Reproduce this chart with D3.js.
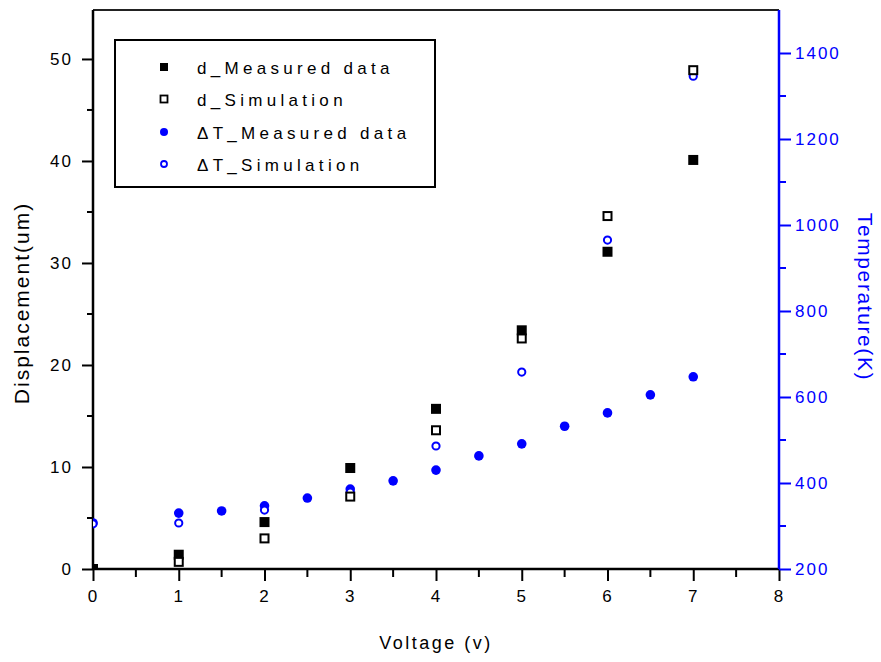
<!DOCTYPE html>
<html><head><meta charset="utf-8">
<script src="https://cdn.jsdelivr.net/npm/d3@7/dist/d3.min.js"></script>
<style>
body{margin:0;background:#fff;}
svg{display:block;}
text{font-family:"Liberation Sans",Arial,sans-serif;}
</style></head><body>
<svg id="chart" width="881" height="662"></svg>
<script>
// ---- data ----
const voltage = [0,1,2,3,4,5,6,7];
const dMeasured = [0,1.4,4.6,9.9,15.7,23.4,31.1,40.1];
const dSimulation = [null,0.7,3.0,7.1,13.6,22.6,34.6,48.9];
const tVoltage = [0,1,1.5,2,2.5,3,3.5,4,4.5,5,5.5,6,6.5,7];
const tMeasured = [307,330,335,347,365,386,405,430,463,491,532,563,605,647];
const tSimVoltage = [0,1,2,3,4,5,6,7];
const tSimulation = [305,307,337,379,486,658,965,1346];
const xTicks = [0,1,2,3,4,5,6,7,8];
const yLeftTicks = [0,10,20,30,40,50];
const yRightTicks = [200,400,600,800,1000,1200,1400];
const legendLabels = ["d_Measured data","d_Simulation","\u0394T_Measured data","\u0394T_Simulation"];

const svg = d3.select("#chart");
const L=93, R=779, T=10, B=569;
const blue="#0000ff";
const x = d3.scaleLinear().domain([0,8]).range([L,R]);
const yL = d3.scaleLinear().domain([0,54.8]).range([B,T]);
const yR = d3.scaleLinear().domain([200,1500]).range([B,T]);

svg.append("defs").append("clipPath").attr("id","clip")
  .append("rect").attr("x",L).attr("y",T).attr("width",R-L).attr("height",B-T);

const tickFont = {size:"17px", ls:"2px"};

// top border
svg.append("line").attr("x1",L).attr("x2",R).attr("y1",T).attr("y2",T).attr("stroke","#222").attr("stroke-width",2);

// x axis
const gx = svg.append("g").attr("transform",`translate(0,${B})`)
  .call(d3.axisBottom(x).tickValues(xTicks).tickSize(12).tickPadding(9).tickFormat(d3.format("d")));
gx.append("g").selectAll("line").data(d3.range(0.5,8,1)).join("line")
  .attr("x1",d=>x(d)).attr("x2",d=>x(d)).attr("y1",0).attr("y2",8).attr("stroke","#000").attr("stroke-width",2);
// left axis
const gy = svg.append("g").attr("transform",`translate(${L},0)`)
  .call(d3.axisLeft(yL).tickValues(yLeftTicks).tickSize(11).tickPadding(9).tickFormat(d3.format("d")));
gy.append("g").selectAll("line").data(d3.range(5,55,10)).join("line")
  .attr("y1",d=>yL(d)).attr("y2",d=>yL(d)).attr("x1",0).attr("x2",-6).attr("stroke","#000").attr("stroke-width",2);
// right axis
const gr = svg.append("g").attr("transform",`translate(${R},0)`)
  .call(d3.axisRight(yR).tickValues(yRightTicks).tickSize(12).tickPadding(4).tickFormat(d3.format("d")));
gr.append("g").selectAll("line").data(d3.range(300,1500,200)).join("line")
  .attr("y1",d=>yR(d)).attr("y2",d=>yR(d)).attr("x1",0).attr("x2",7).attr("stroke",blue).attr("stroke-width",2);

[gx,gy].forEach(g=>{
  g.select(".domain").attr("stroke","#000").attr("stroke-width",2.5);
  g.selectAll(".tick line").attr("stroke","#000").attr("stroke-width",2);
  g.selectAll(".tick text").attr("fill","#000").style("font-size",tickFont.size).style("letter-spacing",tickFont.ls);
});
gr.select(".domain").attr("stroke",blue).attr("stroke-width",2.5);
gr.selectAll(".tick line").attr("stroke",blue).attr("stroke-width",2);
gr.selectAll(".tick text").attr("fill",blue).style("font-size",tickFont.size).style("letter-spacing",tickFont.ls);
gx.select(".domain").attr("d",`M${L},0H${R}`);
gy.select(".domain").attr("d",`M0,${B}V${T}`);
gr.select(".domain").attr("d",`M0,${B}V${T}`);

// axis titles
svg.append("text").attr("x",436).attr("y",649).attr("text-anchor","middle")
  .style("font-size","18px").style("letter-spacing","2.5px").text("Voltage (v)");
svg.append("text").attr("transform","translate(29,303) rotate(-90)").attr("text-anchor","middle")
  .style("font-size","21px").style("letter-spacing","2px").text("Displacement(um)");
svg.append("text").attr("transform","translate(858,297) rotate(90)").attr("text-anchor","middle")
  .attr("fill",blue).style("font-size","21px").style("letter-spacing","1.6px").text("Temperature(K)");

// markers
const plot = svg.append("g").attr("clip-path","url(#clip)");
const dm = voltage.map((v,i)=>({v,val:dMeasured[i]}));
const ds = voltage.map((v,i)=>({v,val:dSimulation[i]})).filter(d=>d.val!=null);
const tm = tVoltage.map((v,i)=>({v,val:tMeasured[i]}));
const ts = tSimVoltage.map((v,i)=>({v,val:tSimulation[i]}));

plot.selectAll(".tm").data(tm).join("circle").attr("class","tm")
  .attr("cx",d=>x(d.v)).attr("cy",d=>yR(d.val)).attr("r",4.8).attr("fill",blue);
plot.selectAll(".ts").data(ts).join("circle").attr("class","ts")
  .attr("cx",d=>x(d.v)).attr("cy",d=>yR(d.val)).attr("r",3.6).attr("fill","#fff").attr("stroke",blue).attr("stroke-width",2);
plot.selectAll(".dm").data(dm).join("rect").attr("class","dm")
  .attr("x",d=>x(d.v)-5).attr("y",d=>yL(d.val)-5).attr("width",10).attr("height",10).attr("fill","#000");
plot.selectAll(".ds").data(ds).join("rect").attr("class","ds")
  .attr("x",d=>x(d.v)-4).attr("y",d=>yL(d.val)-4).attr("width",8).attr("height",8).attr("fill","#fff").attr("stroke","#000").attr("stroke-width",2);

// legend
const lg = svg.append("g");
lg.append("rect").attr("x",115).attr("y",40).attr("width",320).attr("height",147)
  .attr("fill","#fff").attr("stroke","#000").attr("stroke-width",2);
const rowsY=[67,99,132,164];
lg.append("rect").attr("x",160).attr("y",rowsY[0]-4).attr("width",8).attr("height",8).attr("fill","#000");
lg.append("rect").attr("x",160.5).attr("y",rowsY[1]-3.5).attr("width",7).attr("height",7).attr("fill","#fff").attr("stroke","#000").attr("stroke-width",1.8);
lg.append("circle").attr("cx",164).attr("cy",rowsY[2]).attr("r",4).attr("fill",blue);
lg.append("circle").attr("cx",164).attr("cy",rowsY[3]).attr("r",3).attr("fill","#fff").attr("stroke",blue).attr("stroke-width",1.8);
lg.selectAll(".lt").data(legendLabels).join("text").attr("class","lt")
  .attr("x",197).attr("y",(d,i)=>rowsY[i]+7).style("font-size","17px").style("letter-spacing","4.3px").text(d=>d);
</script></body></html>
